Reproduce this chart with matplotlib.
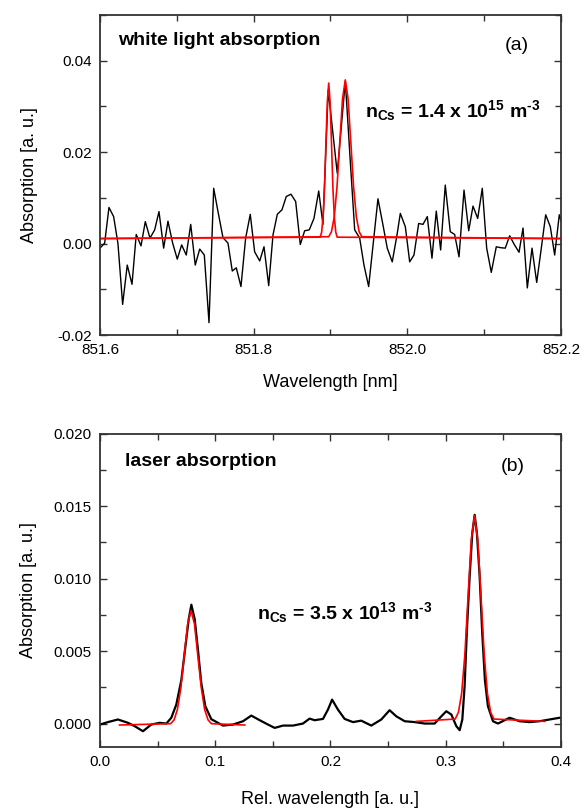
import numpy as np
import matplotlib
matplotlib.use('Agg')
import matplotlib.pyplot as plt
from matplotlib.ticker import MultipleLocator, FormatStrFormatter

plt.rcParams['font.family'] = ['Liberation Sans', 'DejaVu Sans']
plt.rcParams['mathtext.default'] = 'regular'
plt.rcParams['axes.unicode_minus'] = False

# (a) white light absorption, measured spectrum
wl_a = [851.6000, 851.6061, 851.6117, 851.6178, 851.6234, 851.6295, 851.6355, 851.6417,
        851.6472, 851.6534, 851.6590, 851.6651, 851.6712, 851.6768, 851.6829, 851.6885,
        851.6946, 851.7006, 851.7063, 851.7123, 851.7181, 851.7240, 851.7298, 851.7358,
        851.7419, 851.7480, 851.7536, 851.7601, 851.7666, 851.7722, 851.7774, 851.7835,
        851.7896, 851.7956, 851.8013, 851.8079, 851.8135, 851.8196, 851.8252, 851.8308,
        851.8369, 851.8425, 851.8486, 851.8547, 851.8607, 851.8664, 851.8724, 851.8785,
        851.8847, 851.8902, 851.8971, 851.9088, 851.9193, 851.9254, 851.9315, 851.9380,
        851.9436, 851.9497, 851.9618, 851.9683, 851.9739, 851.9804, 851.9866, 851.9909,
        851.9974, 852.0031, 852.0087, 852.0148, 852.0204, 852.0260, 852.0321, 852.0377,
        852.0434, 852.0494, 852.0559, 852.0616, 852.0673, 852.0738, 852.0799, 852.0855,
        852.0916, 852.0976, 852.1033, 852.1093, 852.1158, 852.1215, 852.1275, 852.1332,
        852.1392, 852.1454, 852.1506, 852.1562, 852.1623, 852.1684, 852.1744, 852.1801,
        852.1861, 852.1918, 852.1978, 852.2000]
abs_a = [-0.0010, 0.0001, 0.0079, 0.0059, 0.0000, -0.0133, -0.0047, -0.0089,
         0.0020, -0.0005, 0.0048, 0.0012, 0.0030, 0.0070, -0.0010, 0.0049,
         0.0001, -0.0034, -0.0003, -0.0025, 0.0042, -0.0047, -0.0012, -0.0025,
         -0.0173, 0.0121, 0.0070, 0.0013, 0.0001, -0.0060, -0.0053, -0.0094,
         0.0012, 0.0064, -0.0018, -0.0038, -0.0007, -0.0092, 0.0019, 0.0064,
         0.0074, 0.0103, 0.0108, 0.0092, -0.0002, 0.0028, 0.0030, 0.0055,
         0.0115, 0.0042, 0.0336, 0.0154, 0.0355, 0.0190, 0.0030, 0.0012,
         -0.0047, -0.0094, 0.0098, 0.0041, -0.0010, -0.0040, 0.0019, 0.0066,
         0.0037, -0.0040, -0.0025, 0.0044, 0.0042, 0.0059, -0.0032, 0.0071,
         -0.0014, 0.0128, 0.0026, 0.0020, -0.0029, 0.0117, 0.0028, 0.0082,
         0.0055, 0.0121, -0.0010, -0.0063, -0.0007, -0.0009, -0.0010, 0.0017,
         -0.0002, -0.0019, 0.0034, -0.0097, -0.0010, -0.0085, -0.0010, 0.0063,
         0.0037, -0.0025, 0.0063, 0.0050]

# (a) fitted lines
fit1_wl = [851.6, 851.8867, 851.8885, 851.8903, 851.8922, 851.8940, 851.8959, 851.8977,
           851.8995, 851.9014, 851.9032, 851.9051, 851.9069, 851.9087, 852.2]
fit1_abs = [0.0011, 0.0014, 0.0025, 0.0056, 0.0120, 0.0216, 0.0310, 0.0351,
            0.0310, 0.0216, 0.0120, 0.0056, 0.0025, 0.0014, 0.0011]
fit2_wl = [851.6, 851.8977, 851.9013, 851.9049, 851.9085, 851.9121, 851.9157, 851.9193,
           851.9229, 851.9265, 851.9301, 851.9337, 851.9373, 851.9409, 852.2]
fit2_abs = [0.0011, 0.0015, 0.0026, 0.0058, 0.0124, 0.0221, 0.0317, 0.0358,
            0.0317, 0.0221, 0.0124, 0.0058, 0.0026, 0.0015, 0.0011]

# (b) laser absorption, measured trace
rel_b = [0.0000, 0.0069, 0.0156, 0.0243, 0.0301, 0.0373, 0.0445, 0.0518, 0.0576, 0.0619,
         0.0662, 0.0706, 0.0741, 0.0770, 0.0793, 0.0822, 0.0850, 0.0879, 0.0914, 0.0966,
         0.1024, 0.1067, 0.1154, 0.1241, 0.1313, 0.1386, 0.1458, 0.1516, 0.1588, 0.1675,
         0.1761, 0.1819, 0.1863, 0.1935, 0.1978, 0.2014, 0.2065, 0.2123, 0.2195, 0.2267,
         0.2354, 0.2441, 0.2513, 0.2571, 0.2644, 0.2731, 0.2817, 0.2904, 0.2962, 0.3005,
         0.3049, 0.3092, 0.3121, 0.3144, 0.3164, 0.3184, 0.3208, 0.3230, 0.3251, 0.3271,
         0.3294, 0.3317, 0.3340, 0.3366, 0.3410, 0.3453, 0.3554, 0.3641, 0.3728, 0.3814,
         0.3901, 0.3988, 0.4000]
abs_b = [-0.00007, 0.00010, 0.00028, 0.00005, -0.00018, -0.00053, -0.00007, 0.00005, 0.00000, 0.00040,
         0.00130, 0.00300, 0.00530, 0.00720, 0.00820, 0.00720, 0.00510, 0.00280, 0.00120, 0.00030,
         0.00005, -0.00014, -0.00007, 0.00016, 0.00055, 0.00023, -0.00007, -0.00030, -0.00014, -0.00014,
         0.00000, 0.00034, 0.00023, 0.00032, 0.00096, 0.00165, 0.00096, 0.00032, 0.00010, 0.00020,
         -0.00014, 0.00028, 0.00092, 0.00050, 0.00016, 0.00010, 0.00000, 0.00000, 0.00050, 0.00085,
         0.00062, -0.00018, -0.00046, 0.00028, 0.00260, 0.00650, 0.01020, 0.01310, 0.01440, 0.01310,
         0.01020, 0.00620, 0.00300, 0.00120, 0.00016, 0.00000, 0.00040, 0.00016, 0.00010, 0.00016,
         0.00028, 0.00040, 0.00040]

# (b) fitted lines
fitb1_x = [0.017, 0.0613, 0.0643, 0.0672, 0.0702, 0.0731, 0.0761, 0.0790,
           0.0820, 0.0849, 0.0879, 0.0908, 0.0938, 0.0967, 0.1256]
fitb1_y = [-0.0001, -0.00001, 0.00025, 0.00097, 0.00247, 0.00469, 0.00687, 0.0078,
           0.00687, 0.00469, 0.00247, 0.00097, 0.00025, -0.00001, -0.0001]
fitb2_x = [0.2744, 0.3082, 0.3110, 0.3138, 0.3166, 0.3194, 0.3222, 0.3250,
           0.3278, 0.3306, 0.3334, 0.3362, 0.3390, 0.3418, 0.3858]
fitb2_y = [0.00015, 0.00031, 0.00077, 0.00207, 0.00476, 0.00876, 0.01268, 0.01435,
           0.01268, 0.00876, 0.00476, 0.00207, 0.00077, 0.00031, 0.00015]

fig = plt.figure(figsize=(5.86, 8.10), dpi=100)
ax1 = fig.add_axes([0.1706, 0.5864, 0.7867, 0.3951])
ax2 = fig.add_axes([0.1706, 0.0781, 0.7867, 0.3865])


def style(ax):
    for s in ax.spines.values():
        s.set_linewidth(1.3)
        s.set_color('#333333')
    ax.tick_params(which='both', direction='in', top=True, right=True,
                   width=1.0, color='#333333', labelsize=11, pad=6)
    ax.tick_params(which='major', length=5)
    ax.tick_params(which='minor', length=4)


# panel (a)
ax1.plot(wl_a, abs_a, color='black', lw=1.0)
ax1.plot(fit1_wl, fit1_abs, color='red', lw=1.2)
ax1.plot(fit2_wl, fit2_abs, color='red', lw=1.2)
ax1.set_xlim(851.6, 852.2)
ax1.set_ylim(-0.02, 0.05)
ax1.xaxis.set_major_locator(MultipleLocator(0.2))
ax1.xaxis.set_minor_locator(MultipleLocator(0.1))
ax1.yaxis.set_major_locator(MultipleLocator(0.02))
ax1.yaxis.set_minor_locator(MultipleLocator(0.01))
ax1.xaxis.set_major_formatter(FormatStrFormatter('%.1f'))
ax1.yaxis.set_major_formatter(FormatStrFormatter('%.2f'))
style(ax1)
ax1.set_xlabel('Wavelength [nm]', fontsize=13, labelpad=12)
ax1.set_ylabel('Absorption [a. u.]', fontsize=13, labelpad=14)
ax1.text(0.039, 0.905, 'white light absorption', transform=ax1.transAxes,
         fontsize=14, fontweight='bold', va='baseline')
ax1.text(0.904, 0.906, '(a)', transform=ax1.transAxes, fontsize=14,
         ha='center', va='center')
ax1.text(0.575, 0.681, 'n$_{Cs}$ = 1.4 x 10$^{15}$ m$^{\u20103}$', transform=ax1.transAxes,
         fontsize=14, fontweight='bold', va='baseline')

# panel (b)
ax2.plot(rel_b, abs_b, color='black', lw=1.6)
ax2.plot(fitb1_x, fitb1_y, color='red', lw=1.2)
ax2.plot(fitb2_x, fitb2_y, color='red', lw=1.2)
ax2.set_xlim(0.0, 0.4)
ax2.set_ylim(-0.0016, 0.020)
ax2.xaxis.set_major_locator(MultipleLocator(0.1))
ax2.xaxis.set_minor_locator(MultipleLocator(0.05))
ax2.yaxis.set_major_locator(MultipleLocator(0.005))
ax2.yaxis.set_minor_locator(MultipleLocator(0.0025))
ax2.xaxis.set_major_formatter(FormatStrFormatter('%.1f'))
ax2.yaxis.set_major_formatter(FormatStrFormatter('%.3f'))
style(ax2)
ax2.set_xlabel('Rel. wavelength [a. u.]', fontsize=13, labelpad=16)
ax2.set_ylabel('Absorption [a. u.]', fontsize=13, labelpad=12)
ax2.text(0.054, 0.8965, 'laser absorption', transform=ax2.transAxes,
         fontsize=14, fontweight='bold', va='baseline')
ax2.text(0.895, 0.8965, '(b)', transform=ax2.transAxes, fontsize=14,
         ha='center', va='center')
ax2.text(0.34, 0.408, 'n$_{Cs}$ = 3.5 x 10$^{13}$ m$^{\u20103}$', transform=ax2.transAxes,
         fontsize=14, fontweight='bold', va='baseline')

fig.savefig('out.png', dpi=100)
